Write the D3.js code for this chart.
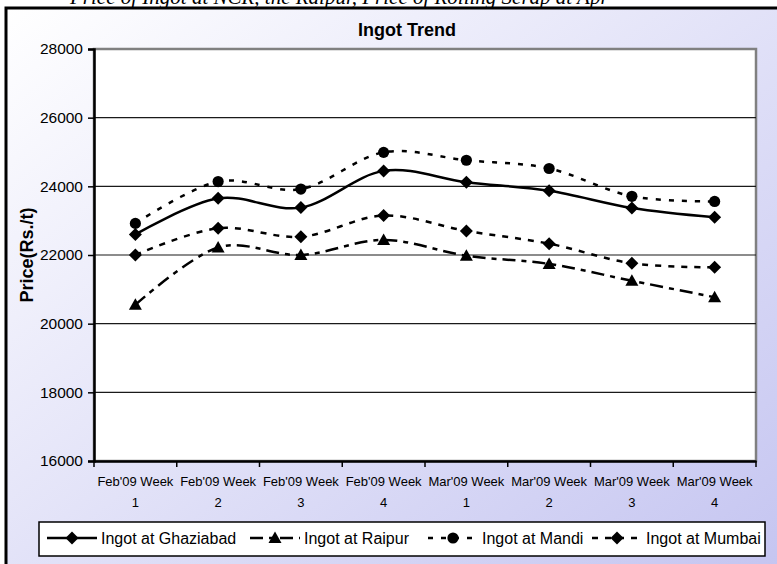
<!DOCTYPE html>
<html>
<head>
<meta charset="utf-8">
<script src="https://cdnjs.cloudflare.com/ajax/libs/d3/7.8.5/d3.min.js"></script>
<style>
  html, body { margin: 0; padding: 0; background: #fff; overflow: hidden; }
  svg { display: block; font-family: "Liberation Sans", Arial, sans-serif; }
</style>
</head>
<body>
<svg width="777" height="564"></svg>
<script>
const categories = [
  "Feb'09 Week 1", "Feb'09 Week 2", "Feb'09 Week 3", "Feb'09 Week 4",
  "Mar'09 Week 1", "Mar'09 Week 2", "Mar'09 Week 3", "Mar'09 Week 4",
];
const ghaziabad = [22600, 23650, 23380, 24450, 24120, 23870, 23370, 23100];
const raipur = [20550, 22220, 22000, 22440, 21980, 21740, 21250, 20770];
const mandi = [22920, 24140, 23920, 24990, 24760, 24520, 23710, 23560];
const mumbai = [22000, 22780, 22530, 23150, 22700, 22330, 21760, 21640];
const yTicks = [16000, 18000, 20000, 22000, 24000, 26000, 28000];

const series = [
  { name: 'Ingot at Ghaziabad', values: ghaziabad, dash: null, marker: 'diamond' },
  { name: 'Ingot at Raipur', values: raipur, dash: '13,6,5,6', marker: 'triangle' },
  { name: 'Ingot at Mandi', values: mandi, dash: '5,8', marker: 'circle' },
  { name: 'Ingot at Mumbai', values: mumbai, dash: '6,7', marker: 'diamond' },
];

const svg = d3.select('svg');
const width = 777;
const height = 564;
const margin = { top: 49, right: 21, bottom: 103, left: 94 };

// gradient background
const defs = svg.append('defs');
const grad = defs.append('linearGradient')
  .attr('id', 'bg')
  .attr('x1', 0).attr('y1', 0).attr('x2', 1).attr('y2', 1);
grad.append('stop').attr('offset', '0%').attr('stop-color', '#ffffff');
grad.append('stop').attr('offset', '100%').attr('stop-color', '#c2c2f0');

// caption of the page above the chart (cut by the window edge, as in the source)
svg.append('text')
  .attr('x', 70)
  .attr('y', 4)
  .style('font-family', '"Liberation Serif", "Times New Roman", serif')
  .style('font-style', 'italic')
  .style('font-size', '21px')
  .text('Price of Ingot at NCR, the Raipur, Price of Rolling Scrap at Apr');

svg.append('rect')
  .attr('x', 6).attr('y', 8)
  .attr('width', 800).attr('height', 600)
  .attr('fill', 'url(#bg)')
  .attr('stroke', '#000')
  .attr('stroke-width', 3);

svg.append('text')
  .attr('x', 407)
  .attr('y', 36)
  .attr('text-anchor', 'middle')
  .style('font-weight', 'bold')
  .style('font-size', '18px')
  .text('Ingot Trend');

const innerWidth = width - margin.left - margin.right;
const innerHeight = height - margin.top - margin.bottom;

const x = d3.scaleBand()
  .domain(categories)
  .range([margin.left, margin.left + innerWidth])
  .padding(0);

const y = d3.scaleLinear()
  .domain([16000, 28000])
  .range([margin.top + innerHeight, margin.top]);

const px = d => x(d) + x.bandwidth() / 2;

// plot area
svg.append('rect')
  .attr('x', margin.left).attr('y', margin.top)
  .attr('width', innerWidth).attr('height', innerHeight)
  .attr('fill', '#fff')
  .attr('stroke', '#808080')
  .attr('stroke-width', 2.5);

// gridlines
svg.append('g')
  .selectAll('line')
  .data(yTicks.filter(t => t > 16000 && t < 28000))
  .enter()
  .append('line')
  .attr('x1', margin.left).attr('x2', margin.left + innerWidth)
  .attr('y1', d => y(d)).attr('y2', d => y(d))
  .attr('stroke', '#1a1a1a')
  .attr('stroke-width', 1.2);

// y axis
const yAxis = svg.append('g')
  .attr('transform', `translate(${margin.left},0)`)
  .call(d3.axisLeft(y).tickValues(yTicks).tickSize(6).tickPadding(5).tickFormat(d3.format('d')));
yAxis.select('.domain').attr('stroke', '#000').attr('stroke-width', 2.5);
yAxis.selectAll('.tick line').attr('stroke', '#000').attr('stroke-width', 1.5);
yAxis.selectAll('.tick text')
  .style('font-size', '15.5px')
  .style('font-family', '"Liberation Sans", Arial, sans-serif')
  .attr('fill', '#000');

// x axis
const xAxis = svg.append('g')
  .attr('transform', `translate(0,${margin.top + innerHeight})`)
  .call(d3.axisBottom(x).tickSize(0).tickPadding(0));
xAxis.select('.domain').attr('stroke', '#000').attr('stroke-width', 2.5);
xAxis.selectAll('.tick text').remove();
xAxis.selectAll('.tick').each(function (d) {
  const idx = d.lastIndexOf(' ');
  const tick = d3.select(this);
  tick.append('text')
    .attr('fill', '#000')
    .attr('text-anchor', 'middle')
    .attr('y', 25)
    .style('font-size', '13px')
    .text(d.slice(0, idx));
  tick.append('text')
    .attr('fill', '#000')
    .attr('text-anchor', 'middle')
    .attr('y', 46)
    .style('font-size', '13px')
    .text(d.slice(idx + 1));
});
const edges = categories.map(c => x(c)).concat([x(categories[categories.length - 1]) + x.bandwidth()]);
xAxis.selectAll('.edge')
  .data(edges)
  .enter()
  .append('line')
  .attr('class', 'edge')
  .attr('x1', d => d).attr('x2', d => d)
  .attr('y1', 0).attr('y2', 6)
  .attr('stroke', '#000')
  .attr('stroke-width', 1.5);

// axis title
svg.append('text')
  .attr('transform', `translate(27,${margin.top + innerHeight / 2}) rotate(-90)`)
  .attr('text-anchor', 'middle')
  .attr('dominant-baseline', 'central')
  .style('font-weight', 'bold')
  .style('font-size', '18px')
  .text('Price(Rs./t)');

// markers
const drawMarker = (sel, type) => {
  if (type === 'circle') {
    sel.append('circle').attr('r', 5.6).attr('fill', '#000');
  } else if (type === 'triangle') {
    sel.append('path').attr('d', 'M0,-6.5L6.5,5L-6.5,5Z').attr('fill', '#000');
  } else {
    sel.append('path').attr('d', 'M0,-6.5L6.5,0L0,6.5L-6.5,0Z').attr('fill', '#000');
  }
};

const line = d3.line()
  .x((d, i) => px(categories[i]))
  .y(d => y(d))
  .curve(d3.curveCardinal.tension(0));

const plot = svg.append('g');
series.forEach(s => {
  plot.append('path')
    .datum(s.values)
    .attr('d', line)
    .attr('fill', 'none')
    .attr('stroke', '#000')
    .attr('stroke-width', 2.5)
    .attr('stroke-dasharray', s.dash);
});
series.forEach(s => {
  plot.append('g')
    .selectAll('g')
    .data(s.values)
    .enter()
    .append('g')
    .attr('transform', (d, i) => `translate(${px(categories[i])},${y(d)})`)
    .each(function () { drawMarker(d3.select(this), s.marker); });
});

// legend
const legendX = [47, 250, 428, 592];
const legend = svg.append('g');
legend.append('rect')
  .attr('x', 39).attr('y', 522)
  .attr('width', 726).attr('height', 34)
  .attr('fill', '#fff')
  .attr('stroke', '#000')
  .attr('stroke-width', 1.5);
series.forEach((s, i) => {
  const g = legend.append('g').attr('transform', `translate(${legendX[i]},538)`);
  g.append('line')
    .attr('x1', 0).attr('x2', 50)
    .attr('stroke', '#000')
    .attr('stroke-width', 2.5)
    .attr('stroke-dasharray', s.dash);
  drawMarker(g.append('g').attr('transform', 'translate(25,0)'), s.marker);
  g.append('text')
    .attr('x', 54)
    .attr('dominant-baseline', 'central')
    .style('font-size', '16px')
    .text(s.name);
});
</script>
</body>
</html>
